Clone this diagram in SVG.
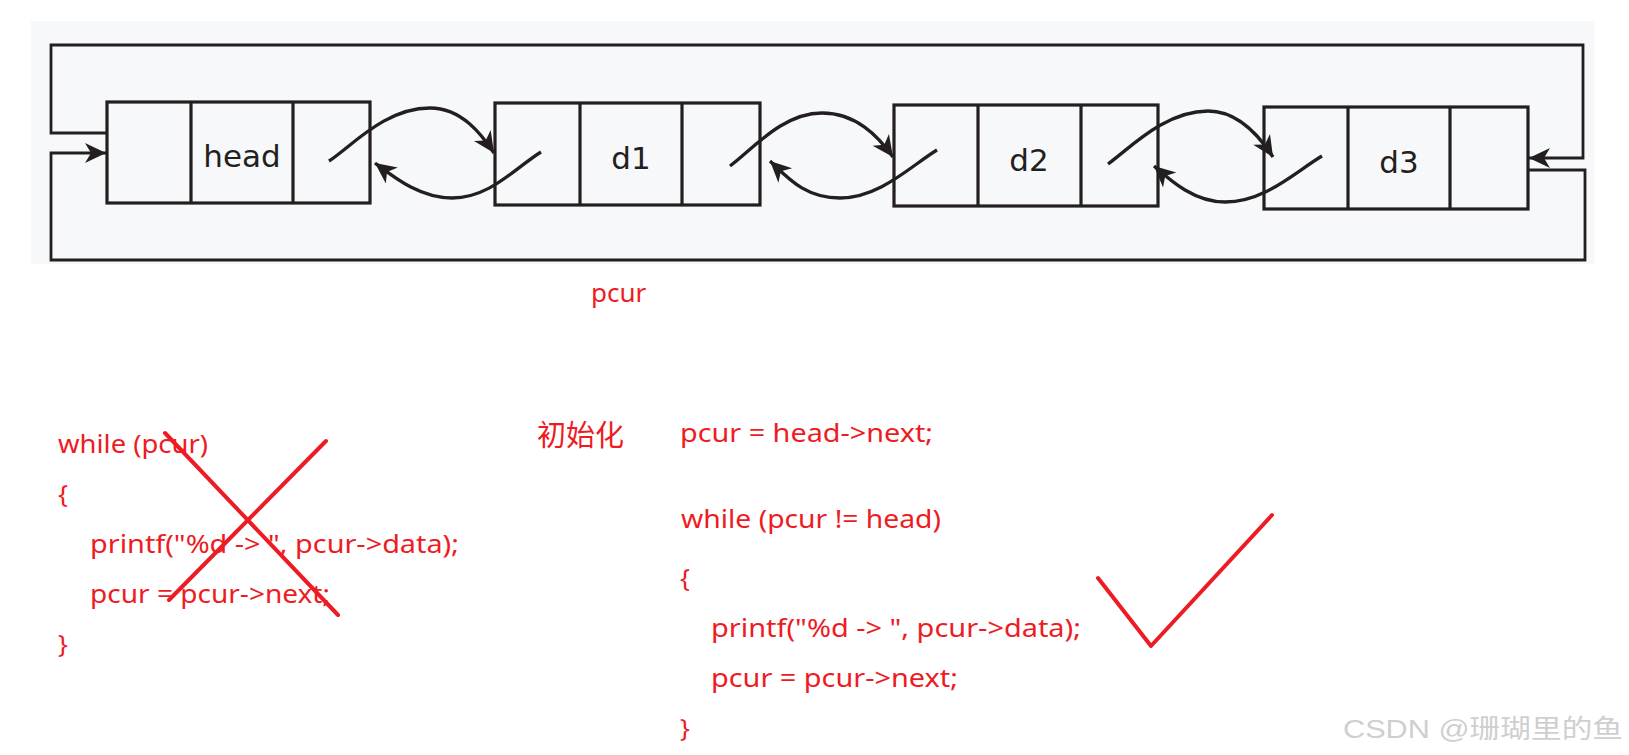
<svg xmlns="http://www.w3.org/2000/svg" width="1629" height="755" viewBox="0 0 1629 755">
  <style>
    .cell { fill: none; stroke: #231f20; stroke-width: 3.2; }
    .lbl { font-family: "DejaVu Sans", sans-serif; font-size: 31px; fill: #231f20; text-anchor: middle; }
    .conn { fill: none; stroke: #231f20; stroke-width: 3.3; }
    .frame { fill: none; stroke: #231f20; stroke-width: 2.8; stroke-linejoin: miter; }
    .code { font-family: "Noto Sans", "Open Sans", sans-serif; font-size: 26px; fill: #ed1c24; }
    .cjk { font-family: "Noto Sans CJK SC", sans-serif; font-size: 29px; fill: #ed1c24; }
    .mark { fill: none; stroke: #ed1c24; stroke-width: 4; stroke-linecap: round; stroke-linejoin: round; }
    .wm { font-family: "Liberation Sans", "Noto Sans CJK SC", sans-serif; font-size: 26px; fill: #cfcfcf; }
  </style>
  <defs>
    <marker id="arr" markerUnits="userSpaceOnUse" viewBox="-24 -12 26 24" refX="0" refY="0" markerWidth="26" markerHeight="24" orient="auto">
      <path d="M0,0 L-21,-10 L-15,0 L-21,10 Z" fill="#231f20"/>
    </marker>
  </defs>

  <rect x="31" y="21" width="1564" height="243" fill="#f7f8fa"/>

  <g id="node-head">
    <rect class="cell" x="107" y="102" width="263" height="101"/>
    <line class="cell" x1="191" y1="102" x2="191" y2="203"/>
    <line class="cell" x1="293" y1="102" x2="293" y2="203"/>
    <text class="lbl" x="242" y="167">head</text>
  </g>
  <g id="node-d1">
    <rect class="cell" x="495" y="103" width="265" height="102"/>
    <line class="cell" x1="580" y1="103" x2="580" y2="205"/>
    <line class="cell" x1="682" y1="103" x2="682" y2="205"/>
    <text class="lbl" x="631" y="169">d1</text>
  </g>
  <g id="node-d2">
    <rect class="cell" x="894" y="105" width="264" height="101"/>
    <line class="cell" x1="978" y1="105" x2="978" y2="206"/>
    <line class="cell" x1="1081" y1="105" x2="1081" y2="206"/>
    <text class="lbl" x="1029" y="171">d2</text>
  </g>
  <g id="node-d3">
    <rect class="cell" x="1264" y="107" width="264" height="102"/>
    <line class="cell" x1="1348" y1="107" x2="1348" y2="209"/>
    <line class="cell" x1="1450" y1="107" x2="1450" y2="209"/>
    <text class="lbl" x="1399" y="173">d3</text>
  </g>

  <g id="connectors">
    <path class="conn" d="M329,161 C352,146 385,108 430,108 C462,108 482,135 494,153" marker-end="url(#arr)"/>
    <path class="conn" d="M541,152 C515,168 490,198 452,198 C420,198 395,178 375,163" marker-end="url(#arr)"/>
    <path class="conn" d="M730,166 C752,150 782,113 822,113 C856,113 878,136 893,157" marker-end="url(#arr)"/>
    <path class="conn" d="M937,150 C912,165 880,198 840,198 C805,198 788,178 770,161" marker-end="url(#arr)"/>
    <path class="conn" d="M1108,164 C1130,148 1165,111 1208,111 C1240,111 1262,140 1273,157" marker-end="url(#arr)"/>
    <path class="conn" d="M1322,156 C1295,172 1265,202 1225,202 C1195,202 1172,182 1154,166" marker-end="url(#arr)"/>
    <path class="frame" d="M107,133 H51 V45 H1583 V158 H1529" marker-end="url(#arr)"/>
    <path class="frame" d="M1527,170 H1585 V260 H51 V153 H106" marker-end="url(#arr)"/>
  </g>

  <g id="pcur-label">
    <text class="code" x="591" y="302">pcur</text>
  </g>

  <g id="code-wrong">
    <text class="code" x="58" y="453" textLength="150" lengthAdjust="spacingAndGlyphs">while (pcur)</text>
    <text class="code" x="58" y="503">{</text>
    <text class="code" x="90" y="553" textLength="369" lengthAdjust="spacingAndGlyphs">printf("%d -&gt; ", pcur-&gt;data);</text>
    <text class="code" x="90" y="603" textLength="240" lengthAdjust="spacingAndGlyphs">pcur = pcur-&gt;next;</text>
    <text class="code" x="58" y="653">}</text>
    <line class="mark" x1="165" y1="433" x2="338" y2="615"/>
    <line class="mark" x1="326" y1="441" x2="169" y2="600"/>
  </g>

  <g id="code-right">
    <text class="cjk" x="537" y="446">初始化</text>
    <text class="code" x="680" y="442" textLength="253" lengthAdjust="spacingAndGlyphs">pcur = head-&gt;next;</text>
    <text class="code" x="681" y="528" textLength="260" lengthAdjust="spacingAndGlyphs">while (pcur != head)</text>
    <text class="code" x="680" y="587">{</text>
    <text class="code" x="711" y="637" textLength="370" lengthAdjust="spacingAndGlyphs">printf("%d -&gt; ", pcur-&gt;data);</text>
    <text class="code" x="711" y="687" textLength="247" lengthAdjust="spacingAndGlyphs">pcur = pcur-&gt;next;</text>
    <text class="code" x="680" y="737">}</text>
    <polyline class="mark" points="1098,578 1151,646 1272,515"/>
  </g>

  <text class="wm" x="1343" y="738" textLength="280" lengthAdjust="spacingAndGlyphs">CSDN @珊瑚里的鱼</text>
</svg>
